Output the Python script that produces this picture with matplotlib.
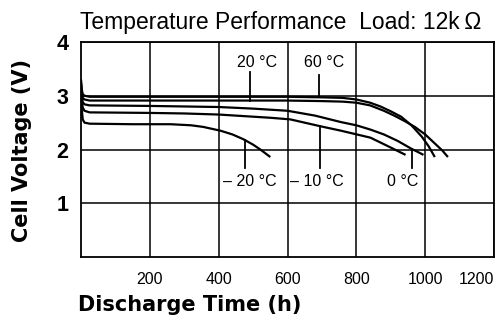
import numpy as np
import matplotlib.pyplot as plt

plt.rcParams['font.family'] = ['Liberation Sans', 'DejaVu Sans']

# discharge curves, hours vs cell voltage
t_60 = [0, 2, 5, 10, 25, 200, 400, 600, 700, 760, 800, 840, 870, 900, 930, 960, 990, 1010, 1028]
v_60 = [3.30, 3.12, 3.03, 3.00, 2.98, 2.98, 2.98, 2.98, 2.97, 2.96, 2.93, 2.87, 2.80, 2.71, 2.61, 2.45, 2.24, 2.06, 1.86]

t_20 = [0, 2, 5, 10, 25, 200, 400, 600, 700, 760, 800, 840, 880, 910, 940, 970, 1000, 1030, 1050, 1066]
v_20 = [3.25, 3.07, 2.96, 2.93, 2.91, 2.91, 2.91, 2.91, 2.90, 2.89, 2.87, 2.82, 2.72, 2.63, 2.53, 2.42, 2.28, 2.10, 1.98, 1.86]

t_0 = [0, 2, 5, 10, 25, 200, 400, 500, 600, 680, 755, 800, 841, 880, 920, 961, 980, 995]
v_0 = [3.20, 3.00, 2.88, 2.84, 2.82, 2.81, 2.79, 2.76, 2.72, 2.63, 2.51, 2.45, 2.37, 2.28, 2.16, 2.01, 1.95, 1.90]

t_m10 = [0, 2, 5, 10, 25, 200, 300, 400, 450, 500, 550, 608, 697, 755, 841, 902, 943]
v_m10 = [3.15, 2.92, 2.78, 2.72, 2.69, 2.68, 2.67, 2.65, 2.63, 2.61, 2.59, 2.56, 2.43, 2.35, 2.22, 2.03, 1.90]

t_m20 = [0, 2, 5, 10, 25, 150, 260, 320, 355, 405, 440, 472, 500, 521, 550]
v_m20 = [3.10, 2.75, 2.56, 2.50, 2.48, 2.47, 2.47, 2.45, 2.42, 2.35, 2.28, 2.19, 2.09, 2.00, 1.86]

# label text, label position (h, V), pointer hour
labels = ['20 °C', '60 °C', '– 20 °C', '– 10 °C', '0 °C']
label_x = [511, 705, 491, 686, 936]
label_y = [3.61, 3.61, 1.40, 1.40, 1.40]
pointer_x = [491, 691, 477, 694, 961]
pointer_end = [3.44, 3.39, 1.66, 1.66, 1.66]

x_ticks = [200, 400, 600, 800, 1000, 1200]
y_ticks = [1, 2, 3, 4]

fig = plt.figure(figsize=(4.97, 3.25), dpi=100)
ax = fig.add_axes([0.163, 0.209, 0.831, 0.662])

ax.set_xlim(0, 1200)
ax.set_ylim(0, 4)

for x in x_ticks:
    ax.axvline(x, color='black', lw=1.1, zorder=1)
for y in y_ticks:
    ax.axhline(y, color='black', lw=1.1, zorder=1)
for s in ax.spines.values():
    s.set_linewidth(1.3)

curves = [(t_60, v_60), (t_20, v_20), (t_0, v_0), (t_m10, v_m10), (t_m20, v_m20)]
for t, v in curves:
    ax.plot(t, v, color='black', lw=1.6, solid_joinstyle='round',
            solid_capstyle='butt', zorder=3)

# pointer lines from labels to their curve
targets = [(t_20, v_20), (t_60, v_60), (t_m20, v_m20), (t_m10, v_m10), (t_0, v_0)]
for i in range(len(labels)):
    t, v = targets[i]
    vc = np.interp(pointer_x[i], t, v)
    ax.plot([pointer_x[i], pointer_x[i]], [pointer_end[i], vc],
            color='black', lw=1.3, zorder=3)
    ax.text(label_x[i], label_y[i], labels[i], ha='center', va='center',
            fontsize=11.5, zorder=4)

ax.set_xticks(x_ticks)
ax.set_yticks(y_ticks)
ax.tick_params(axis='both', length=0)
ax.tick_params(axis='x', pad=11, labelsize=11.5)
ax.tick_params(axis='y', pad=9, labelsize=15.5)
for lab in ax.get_yticklabels():
    lab.set_fontweight('bold')
ax.get_xticklabels()[-1].set_ha('right')

fig.text(80 / 497, 1 - 22 / 325, 'Temperature Performance  Load: 12k\u2009Ω',
         ha='left', va='center', fontsize=16.5)
fig.text(22 / 497, 1 - 150 / 325, 'Cell Voltage (V)', rotation=90,
         ha='center', va='center', fontsize=15, fontweight='bold',
         family=['DejaVu Sans'])
fig.text(78 / 497, 1 - 305 / 325, 'Discharge Time (h)', ha='left', va='center',
         fontsize=15, fontweight='bold', family=['DejaVu Sans'])

fig.savefig('out.png', dpi=100)
